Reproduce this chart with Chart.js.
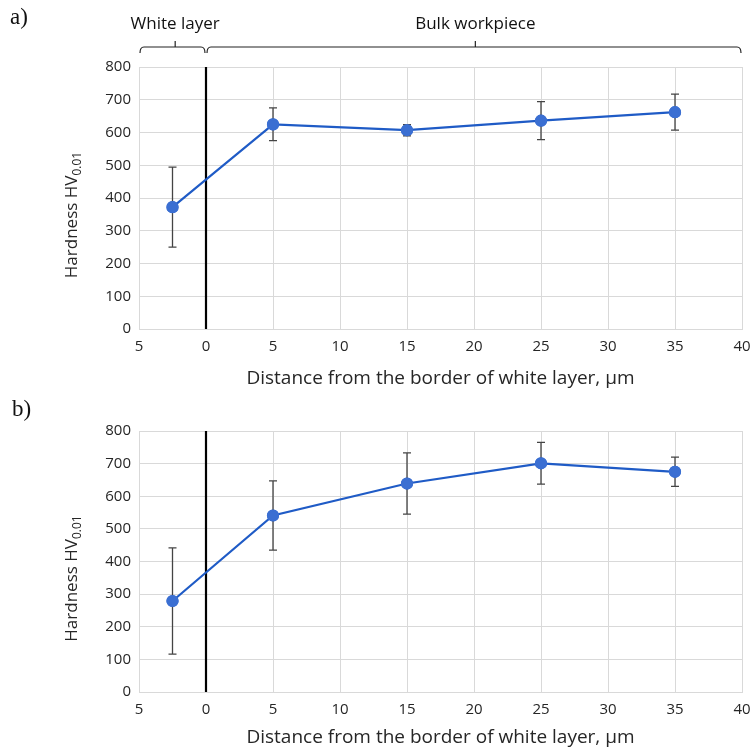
<!DOCTYPE html>
<html>
<head>
<meta charset="utf-8">
<script src="https://cdn.jsdelivr.net/npm/chart.js@4.4.1/dist/chart.umd.min.js"></script>
<style>
  html, body { margin: 0; padding: 0; background: #fff; }
  #wrap { position: relative; width: 751px; height: 754px; }
  .panel { position: absolute; left: 0; width: 751px; }
  #panelA { top: 0; height: 395px; }
  #panelB { top: 395px; height: 359px; }
  .tag { position: absolute; font-family: "Liberation Serif", "DejaVu Serif", serif; font-size: 23px; color: #111; }
</style>
</head>
<body>
<div id="wrap">
  <div class="panel" id="panelA"><canvas id="chartA" width="751" height="395"></canvas></div>
  <div class="panel" id="panelB"><canvas id="chartB" width="751" height="359"></canvas></div>
  <div class="tag" style="left:10px; top:4px;">a)</div>
  <div class="tag" style="left:12px; top:396px;">b)</div>
</div>
<script>
// ---- data ----
const distances = [-2.5, 5, 15, 25, 35];
const hardnessA = [372, 625, 607, 636, 662];
const errorA = [122, 50, 17, 58, 55];
const hardnessB = [279, 541, 639, 701, 675];
const errorB = [163, 106, 94, 64, 45];
const borderLine = [0, 800]; // white layer border at x = 0
const zones = [
  { label: "White layer", from: -5, to: 0, mark: -2.3 },
  { label: "Bulk workpiece", from: 0, to: 40, mark: 20.1 },
];
const xTitle = "Distance from the border of white layer, µm";

const FONT = "'Open Sans', 'Noto Sans', sans-serif";
const TEXT = "#262626";
const GRID = "#d9d9d9";
const LINE = "#1f5bc6";
const DOT = "#3b6fd2";

// error bars, drawn through the chart scales
const errorBarPlugin = {
  id: "errorBars",
  afterDatasetsDraw(chart, args, opts) {
    const { ctx, scales } = chart;
    ctx.save();
    ctx.strokeStyle = "#444";
    ctx.lineWidth = 1.3;
    distances.forEach((d, i) => {
      const x = scales.x.getPixelForValue(d);
      const yHi = scales.y.getPixelForValue(opts.values[i] + opts.errors[i]);
      const yLo = scales.y.getPixelForValue(opts.values[i] - opts.errors[i]);
      ctx.beginPath();
      ctx.moveTo(x, yHi); ctx.lineTo(x, yLo);
      ctx.moveTo(x - 4, yHi); ctx.lineTo(x + 4, yHi);
      ctx.moveTo(x - 4, yLo); ctx.lineTo(x + 4, yLo);
      ctx.stroke();
    });
    // redraw points on top of bars
    const meta = chart.getDatasetMeta(0);
    meta.data.forEach((pt) => pt.draw(ctx));
    ctx.restore();
  },
};

// y title with subscript
const yTitlePlugin = {
  id: "yTitle",
  afterDraw(chart) {
    const { ctx, chartArea } = chart;
    const cy = (chartArea.top + chartArea.bottom) / 2 + 17;
    ctx.save();
    ctx.translate(72, cy);
    ctx.rotate(-Math.PI / 2);
    ctx.fillStyle = TEXT;
    ctx.textBaseline = "middle";
    const main = "Hardness HV";
    ctx.font = "17px " + FONT;
    const w1 = ctx.measureText(main).width;
    ctx.font = "12px " + FONT;
    const w2 = ctx.measureText("0.01").width;
    const x0 = -(w1 + w2) / 2;
    ctx.font = "17px " + FONT;
    ctx.fillText(main, x0, 0);
    ctx.font = "12px " + FONT;
    ctx.fillText("0.01", x0 + w1, 6);
    ctx.restore();
  },
};

// zone brackets above panel a
const bracketPlugin = {
  id: "brackets",
  afterDraw(chart) {
    const { ctx, scales } = chart;
    ctx.save();
    ctx.strokeStyle = "#222";
    ctx.lineWidth = 1.2;
    ctx.fillStyle = "#111";
    ctx.font = "17px " + FONT;
    ctx.textAlign = "center";
    ctx.textBaseline = "middle";
    zones.forEach((z) => {
      const x1 = scales.x.getPixelForValue(z.from) + 1;
      const x2 = scales.x.getPixelForValue(z.to) - 1;
      const xm = scales.x.getPixelForValue(z.mark);
      const y = 47;
      ctx.beginPath();
      ctx.moveTo(x1, 53); ctx.quadraticCurveTo(x1, y, x1 + 4, y);
      ctx.lineTo(x2 - 4, y); ctx.quadraticCurveTo(x2, y, x2, 53);
      ctx.moveTo(xm, y); ctx.lineTo(xm, 41);
      ctx.stroke();
      ctx.fillText(z.label, xm, 24);
    });
    ctx.restore();
  },
};

function buildChart(canvasId, values, errors, padTop, extra) {
  const points = distances.map((d, i) => ({ x: d, y: values[i] }));
  const borderPts = borderLine.map((v) => ({ x: 0, y: v }));
  return new Chart(document.getElementById(canvasId), {
    type: "scatter",
    data: {
      datasets: [
        {
          data: points,
          showLine: true,
          borderColor: LINE,
          borderWidth: 2.2,
          pointRadius: 5,
          pointBackgroundColor: DOT,
          pointBorderColor: DOT,
          order: 0,
        },
        {
          data: borderPts,
          showLine: true,
          borderColor: "#000",
          borderWidth: 2.2,
          pointRadius: 0,
          order: 1,
        },
      ],
    },
    options: {
      responsive: false,
      animation: false,
      layout: { padding: { top: padTop, right: 9, left: 0, bottom: 0 } },
      scales: {
        x: {
          type: "linear",
          min: -5,
          max: 40,
          afterFit: (s) => { s.height = extra; s.paddingRight = 0; s.paddingLeft = 0; },
          grid: { color: GRID, lineWidth: 1, drawTicks: false },
          border: { color: GRID },
          ticks: {
            stepSize: 5,
            padding: 9,
            color: TEXT,
            font: { family: FONT, size: 15 },
            callback: (v) => Math.abs(v),
          },
          title: {
            display: true,
            text: xTitle,
            color: TEXT,
            font: { family: FONT, size: 19 },
            padding: { top: 4, bottom: 5 },
          },
        },
        y: {
          min: 0,
          max: 800,
          afterFit: (s) => { s.width = 139; },
          grid: { color: GRID, lineWidth: 1, drawTicks: false },
          border: { color: GRID },
          ticks: {
            stepSize: 100,
            padding: 8,
            color: TEXT,
            font: { family: FONT, size: 15 },
          },
        },
      },
      plugins: {
        legend: { display: false },
        tooltip: { enabled: false },
        errorBars: { values, errors },
      },
    },
    plugins: [errorBarPlugin, yTitlePlugin].concat(canvasId === "chartA" ? [bracketPlugin] : []),
  });
}

buildChart("chartA", hardnessA, errorA, 67, 66);
buildChart("chartB", hardnessB, errorB, 36, 62);
</script>
</body>
</html>
